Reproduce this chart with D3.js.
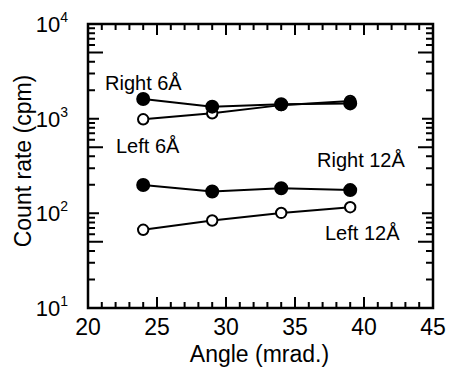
<!DOCTYPE html>
<html>
<head>
<meta charset="utf-8">
<script src="https://cdn.jsdelivr.net/npm/d3@7"></script>
<style>
  body { margin: 0; background: #fff; }
  .lbl { font-family: "Liberation Sans", Arial, sans-serif; fill: #000; }
</style>
</head>
<body>
<svg id="chart" width="455" height="373"></svg>
<script>
// data
const angles = [24, 29, 34, 39];
const right6 = [1615, 1340, 1420, 1450];
const left6 = [985, 1140, 1390, 1540];
const right12 = [199, 170, 184, 176];
const left12 = [67, 84, 101, 116];
const xTickValues = [20, 25, 30, 35, 40, 45];
const yDecades = [1, 2, 3, 4];   // exponents for 10^n

const series = [
  { name: 'Left 6Å', values: left6, filled: false },
  { name: 'Right 6Å', values: right6, filled: true },
  { name: 'Left 12Å', values: left12, filled: false },
  { name: 'Right 12Å', values: right12, filled: true },
];

// label placement (pixels)
const labelPos = {
  'Right 6Å': [105, 90],
  'Left 6Å': [116, 153],
  'Right 12Å': [317, 167],
  'Left 12Å': [325, 240],
};

const margin = { left: 88, right: 22, top: 24, bottom: 65 };
const W = 455, H = 373;
const svg = d3.select('#chart');

const xs = d3.scaleLinear().domain([20, 45]).range([margin.left, W - margin.right]);
const ys = d3.scaleLog().domain([10, 1e4]).range([H - margin.bottom, margin.top]);
const pL = margin.left, pR = W - margin.right;
const pB = H - margin.bottom, pT = margin.top;

// frame
svg.append('rect')
  .attr('x', pL).attr('y', pT)
  .attr('width', pR - pL).attr('height', pB - pT)
  .attr('fill', 'none').attr('stroke', '#000').attr('stroke-width', 2.5);

// x tick labels
svg.append('g').selectAll('text')
  .data(xTickValues)
  .join('text')
  .attr('class', 'lbl')
  .attr('x', d => xs(d))
  .attr('y', pB + 27)
  .attr('text-anchor', 'middle')
  .style('font-size', '23px')
  .text(d => d);

// y tick labels 10^n
const yl = svg.append('g').selectAll('text')
  .data(yDecades)
  .join('text')
  .attr('class', 'lbl')
  .attr('x', pL - 20)
  .attr('y', d => ys(Math.pow(10, d)) + 8)
  .attr('text-anchor', 'end')
  .style('font-size', '22px');
yl.append('tspan').text('10');
yl.append('tspan').attr('dy', -10).style('font-size', '14px').text(d => d);

// axis titles
svg.append('text')
  .attr('class', 'lbl')
  .attr('x', (pL + pR) / 2 - 1)
  .attr('y', 362)
  .attr('text-anchor', 'middle')
  .style('font-size', '23px')
  .text('Angle (mrad.)');

svg.append('text')
  .attr('class', 'lbl')
  .attr('transform', `translate(31,${(pT + pB) / 2 - 5}) rotate(-90)`)
  .attr('text-anchor', 'middle')
  .style('font-size', '23px')
  .text('Count rate (cpm)');

// series lines and markers
const lineGen = d3.line().x((d, i) => xs(angles[i])).y(d => ys(d));
const gS = svg.append('g');
series.forEach(s => {
  gS.append('path')
    .attr('d', lineGen(s.values))
    .attr('fill', 'none')
    .attr('stroke', '#000')
    .attr('stroke-width', 2);
});
series.forEach(s => {
  gS.append('g').selectAll('circle')
    .data(s.values)
    .join('circle')
    .attr('cx', (d, i) => xs(angles[i]))
    .attr('cy', d => ys(d))
    .attr('r', s.filled ? 6 : 5.2)
    .attr('fill', s.filled ? '#000' : '#fff')
    .attr('stroke', '#000')
    .attr('stroke-width', 2);
});

// series labels
svg.append('g').selectAll('text')
  .data(series)
  .join('text')
  .attr('class', 'lbl')
  .attr('x', d => labelPos[d.name][0])
  .attr('y', d => labelPos[d.name][1])
  .style('font-size', '20px')
  .text(d => d.name);

// inward tick marks on all four sides, one path on top
const xTickList = d3.range(20, 46, 1).map(v => ({ v, len: v % 5 === 0 ? 11 : 6 }));
const yTickList = [];
yDecades.slice(0, -1).forEach(e => {
  for (let k = 2; k <= 9; k++) yTickList.push({ v: k * Math.pow(10, e), len: k === 5 ? 15 : 7 });
});
yDecades.forEach(e => yTickList.push({ v: Math.pow(10, e), len: 11 }));

let tickPath = '';
xTickList.forEach(t => {
  const px = xs(t.v).toFixed(1);
  tickPath += `M${px},${pB}V${pB - t.len}M${px},${pT}V${pT + t.len}`;
});
yTickList.forEach(t => {
  const py = ys(t.v).toFixed(1);
  tickPath += `M${pL},${py}H${pL + t.len}M${pR},${py}H${pR - t.len}`;
});
svg.append('path')
  .attr('d', tickPath)
  .attr('fill', 'none')
  .attr('stroke', '#000')
  .attr('stroke-width', 2);
</script>
</body>
</html>
